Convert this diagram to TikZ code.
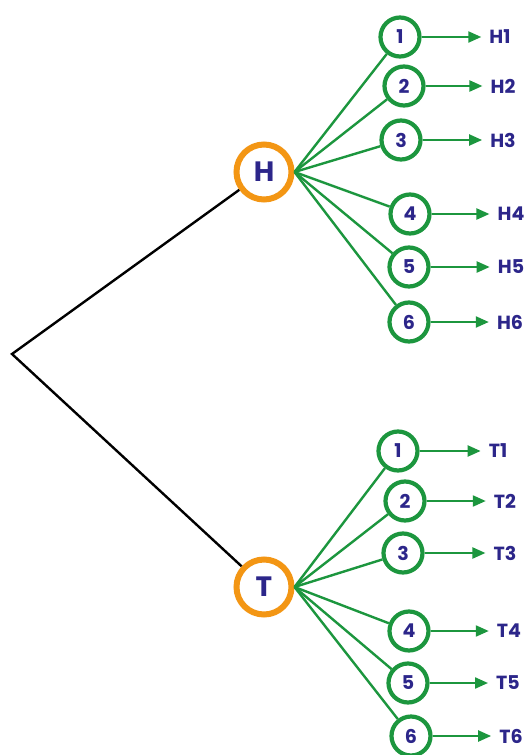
\documentclass[tikz,border=0pt]{standalone}
\usepackage{fontspec}
\setmainfont{Poppins}
\usetikzlibrary{arrows.meta}
\definecolor{tgreen}{RGB}{28,150,62}
\definecolor{torange}{RGB}{243,150,20}
\definecolor{tblue}{RGB}{44,38,138}
\tikzset{
  coin/.style={circle, draw=torange, line width=6pt, minimum size=55pt, inner sep=0pt, text=tblue, font=\fontsize{28}{28}\selectfont\bfseries},
  die/.style={circle, draw=tgreen, line width=4.2pt, minimum size=39pt, inner sep=0pt, text=tblue, font=\fontsize{19}{19}\selectfont\bfseries},
  outcome/.style={text=tblue, inner xsep=8pt, inner ysep=0pt, font=\fontsize{19}{19}\selectfont\bfseries},
  branch/.style={draw=black, line width=2.4pt},
  twig/.style={draw=tgreen, line width=2.4pt},
  res/.style={draw=tgreen, line width=2.2pt, -{Triangle[length=13pt,width=11pt]}}
}
\begin{document}
\begin{tikzpicture}[x=1pt,y=-1pt]
\useasboundingbox (0,0) rectangle (528,755);
\fill[white] (0,0) rectangle (528,755);
\coordinate (root) at (12,354);
\node[coin] (H) at (264,172) {H};
\node[coin] (T) at (264,587) {T};
\draw[branch] (H) -- (root) -- (T);
% H dice
\node[die] (h1) at (400,37) {1};
\node[die] (h2) at (404,86) {2};
\node[die] (h3) at (401,140) {3};
\node[die] (h4) at (410,214) {4};
\node[die] (h5) at (409,267) {5};
\node[die] (h6) at (409,322) {6};
\node[outcome] (oh1) at (500,37) {H1};
\node[outcome] (oh2) at (503,86) {H2};
\node[outcome] (oh3) at (503,140) {H3};
\node[outcome] (oh4) at (511,214) {H4};
\node[outcome] (oh5) at (511,267) {H5};
\node[outcome] (oh6) at (510,322) {H6};
% T dice
\node[die] (t1) at (398,451) {1};
\node[die] (t2) at (405,501) {2};
\node[die] (t3) at (403,553) {3};
\node[die] (t4) at (409,631) {4};
\node[die] (t5) at (408,683) {5};
\node[die] (t6) at (411,736) {6};
\node[outcome] (ot1) at (498,451) {T1};
\node[outcome] (ot2) at (505,501) {T2};
\node[outcome] (ot3) at (505,553) {T3};
\node[outcome] (ot4) at (509,631) {T4};
\node[outcome] (ot5) at (508,683) {T5};
\node[outcome] (ot6) at (511,736) {T6};
\foreach \i in {1,...,6} {
  \draw[twig] (H.east) -- (h\i);
  \draw[twig] (T.east) -- (t\i);
  \draw[res] (h\i.east) -- (oh\i.west);
  \draw[res] (t\i.east) -- (ot\i.west);
}
\end{tikzpicture}
\end{document}
